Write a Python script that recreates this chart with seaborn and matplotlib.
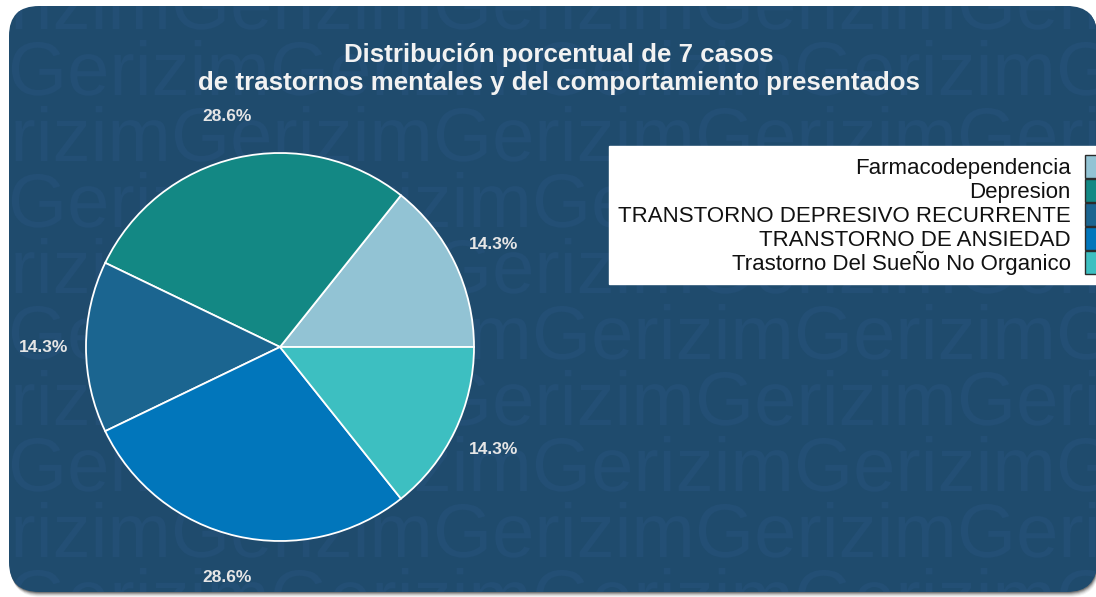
import numpy as np
import pandas as pd
import matplotlib.pyplot as plt
import seaborn as sns
from matplotlib.patches import FancyBboxPatch, Patch, PathPatch
from matplotlib.textpath import TextPath
from matplotlib.font_manager import FontProperties
from matplotlib.transforms import Affine2D

# datos del grafico
categorias = ["Farmacodependencia", "Depresion", "TRANSTORNO DEPRESIVO RECURRENTE",
              "TRANSTORNO DE ANSIEDAD", "Trastorno Del SueÑo No Organico"]
casos = [1, 2, 1, 2, 1]
colores = ["#92c3d4", "#138884", "#1b6590", "#0176bb", "#3dbfc1"]
titulo = "Distribución porcentual de 7 casos\nde trastornos mentales y del comportamiento presentados"

sns.set_style("white")
plt.rcParams['font.family'] = ['Liberation Sans', 'DejaVu Sans']

W, H = 1096, 597
fig = plt.figure(figsize=(W / 100, H / 100), dpi=100)
fig.patch.set_facecolor("white")

# fondo tipo tarjeta con marca de agua
bg = fig.add_axes([0, 0, 1, 1])
bg.set_xlim(0, W)
bg.set_ylim(H, 0)
bg.axis("off")

for off, a in [(5, 0.05), (4, 0.08), (3, 0.12), (2, 0.18), (1, 0.25)]:
    bg.add_patch(FancyBboxPatch((9 + off * 0.4, 6 + off), 1088, 586,
                                boxstyle="round,pad=0,rounding_size=30",
                                fc="black", ec="none", alpha=a))
card = FancyBboxPatch((9, 6), 1088, 586, boxstyle="round,pad=0,rounding_size=30",
                      fc="#1f4b6d", ec="none")
bg.add_patch(card)

# marca de agua "Gerizim" como trazos recortados a la tarjeta
palabra = TextPath((0, 0), "Gerizim", size=76, prop=FontProperties(family="Liberation Sans"))
for k in range(10):
    y = 29 + 66 * k
    x0 = 794 if k % 2 else 695
    for j in range(-3, 2):
        tr = Affine2D().scale(1, -1).translate(x0 + 262 * j, y) + bg.transData
        pp = PathPatch(palabra, transform=tr, fc="#234f75", ec="none")
        bg.add_patch(pp)
        pp.set_clip_path(card)

# pastel
df = pd.DataFrame({"categoria": categorias, "casos": casos})
ax = fig.add_axes([86 / W, (H - 347 - 194) / H, 388 / W, 388 / H])
wedges, textos, pcts = ax.pie(df["casos"], colors=sns.color_palette(colores), startangle=0,
                              counterclock=True, autopct="%1.1f%%", pctdistance=1.22,
                              wedgeprops=dict(edgecolor="white", linewidth=1.3),
                              textprops=dict(color="#e6e6e6", fontsize=12.5, fontweight="bold"))
ax.set_xlim(-1, 1)
ax.set_ylim(-1, 1)

fig.text(559 / W, 1 - 69 / H, titulo, ha="center", va="center", fontsize=18.6,
         fontweight="bold", color="#f2f2f2", linespacing=1.2)

# leyenda con cuadros a la derecha
handles = [Patch(facecolor=c, edgecolor="#2b2b2b", linewidth=1) for c in colores]
leg = fig.legend(handles, df["categoria"], loc="upper left",
                 bbox_to_anchor=(609 / W, 1 - 146 / H), bbox_transform=fig.transFigure,
                 markerfirst=False, frameon=True, fancybox=False, facecolor="white",
                 edgecolor="white", framealpha=1, fontsize=16, borderpad=0.41,
                 borderaxespad=0, labelspacing=0.0, handlelength=0.9, handleheight=1.2,
                 handletextpad=0.65)
for col in leg._legend_handle_box.get_children():
    col.align = "right"
for t in leg.get_texts():
    t.set_color("#111111")

fig.savefig("out.png", dpi=100, facecolor="white")
